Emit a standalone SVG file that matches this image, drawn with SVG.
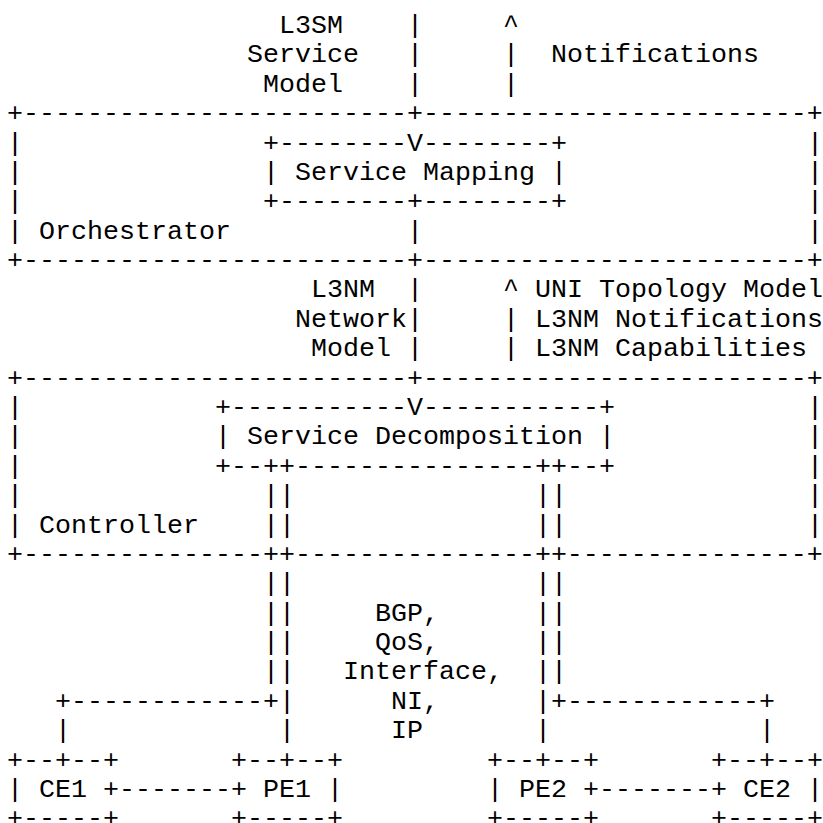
<svg xmlns="http://www.w3.org/2000/svg" width="823" height="823" viewBox="0 0 823 823" xml:space="preserve">
<style>
text { font-family: "Liberation Mono", "Courier New", monospace; font-size: 26.667px; fill: #000; white-space: pre; }
</style>
<rect width="823" height="823" fill="#fff"/>
<g id="labels">
<text x="279" y="33">L3SM</text>
<text x="247" y="62.4">Service</text>
<text x="263" y="91.8">Model</text>
<text x="551" y="62.4">Notifications</text>
<text x="311" y="297.4">L3NM</text>
<text x="295" y="326.8">Network</text>
<text x="311" y="356.2">Model</text>
<text x="535" y="297.4">UNI Topology Model</text>
<text x="535" y="326.8">L3NM Notifications</text>
<text x="535" y="356.2">L3NM Capabilities</text>
<text x="375" y="620.6">BGP,</text>
<text x="375" y="650">QoS,</text>
<text x="343" y="679.4">Interface,</text>
<text x="391" y="708.7">NI,</text>
<text x="391" y="738.1">IP</text>
</g>
<g id="orchestrator">
<text x="7" y="121.1">+------------------------+------------------------+</text>
<text x="7" y="150.5">|</text><text x="807" y="150.5">|</text>
<text x="7" y="179.9">|</text><text x="807" y="179.9">|</text>
<text x="7" y="209.3">|</text><text x="807" y="209.3">|</text>
<text x="7" y="238.7">| Orchestrator</text><text x="807" y="238.7">|</text>
<text x="7" y="268">+------------------------+------------------------+</text>
</g>
<g id="service-mapping">
<text x="263" y="150.5">+--------V--------+</text>
<text x="263" y="179.9">| Service Mapping |</text>
<text x="263" y="209.3">+--------+--------+</text>
</g>
<g id="controller">
<text x="7" y="385.6">+------------------------+------------------------+</text>
<text x="7" y="414.9">|</text><text x="807" y="414.9">|</text>
<text x="7" y="444.3">|</text><text x="807" y="444.3">|</text>
<text x="7" y="473.7">|</text><text x="807" y="473.7">|</text>
<text x="7" y="503.1">|</text><text x="807" y="503.1">|</text>
<text x="7" y="532.5">| Controller</text><text x="807" y="532.5">|</text>
<text x="7" y="561.8">+---------------++---------------++---------------+</text>
</g>
<g id="service-decomposition">
<text x="215" y="414.9">+-----------V-----------+</text>
<text x="215" y="444.3">| Service Decomposition |</text>
<text x="215" y="473.7">+--++---------------++--+</text>
</g>
<g id="ce1">
<text x="7" y="767.5">+--+--+</text>
<text x="7" y="796.9">| CE1 +</text>
<text x="7" y="826.3">+-----+</text>
</g>
<g id="pe1">
<text x="231" y="767.5">+--+--+</text>
<text x="231" y="796.9">+ PE1 |</text>
<text x="231" y="826.3">+-----+</text>
</g>
<g id="pe2">
<text x="487" y="767.5">+--+--+</text>
<text x="487" y="796.9">| PE2 +</text>
<text x="487" y="826.3">+-----+</text>
</g>
<g id="ce2">
<text x="711" y="767.5">+--+--+</text>
<text x="711" y="796.9">+ CE2 |</text>
<text x="711" y="826.3">+-----+</text>
</g>
<g id="connectors">
<text x="407" y="33">|</text><text x="503" y="33">^</text>
<text x="407" y="62.4">|</text><text x="503" y="62.4">|</text>
<text x="407" y="91.8">|</text><text x="503" y="91.8">|</text>
<text x="407" y="238.7">|</text>
<text x="407" y="297.4">|</text><text x="503" y="297.4">^</text>
<text x="407" y="326.8">|</text><text x="503" y="326.8">|</text>
<text x="407" y="356.2">|</text><text x="503" y="356.2">|</text>
<text x="263" y="503.1">||</text><text x="535" y="503.1">||</text>
<text x="263" y="532.5">||</text><text x="535" y="532.5">||</text>
<text x="263" y="591.2">||</text><text x="535" y="591.2">||</text>
<text x="263" y="620.6">||</text><text x="535" y="620.6">||</text>
<text x="263" y="650">||</text><text x="535" y="650">||</text>
<text x="263" y="679.4">||</text><text x="535" y="679.4">||</text>
<text x="55" y="708.7">+------------+|</text><text x="535" y="708.7">|+------------+</text>
<text x="55" y="738.1">|</text><text x="279" y="738.1">|</text><text x="535" y="738.1">|</text><text x="759" y="738.1">|</text>
<text x="119" y="796.9">-------</text>
<text x="599" y="796.9">-------</text>
</g>
</svg>
